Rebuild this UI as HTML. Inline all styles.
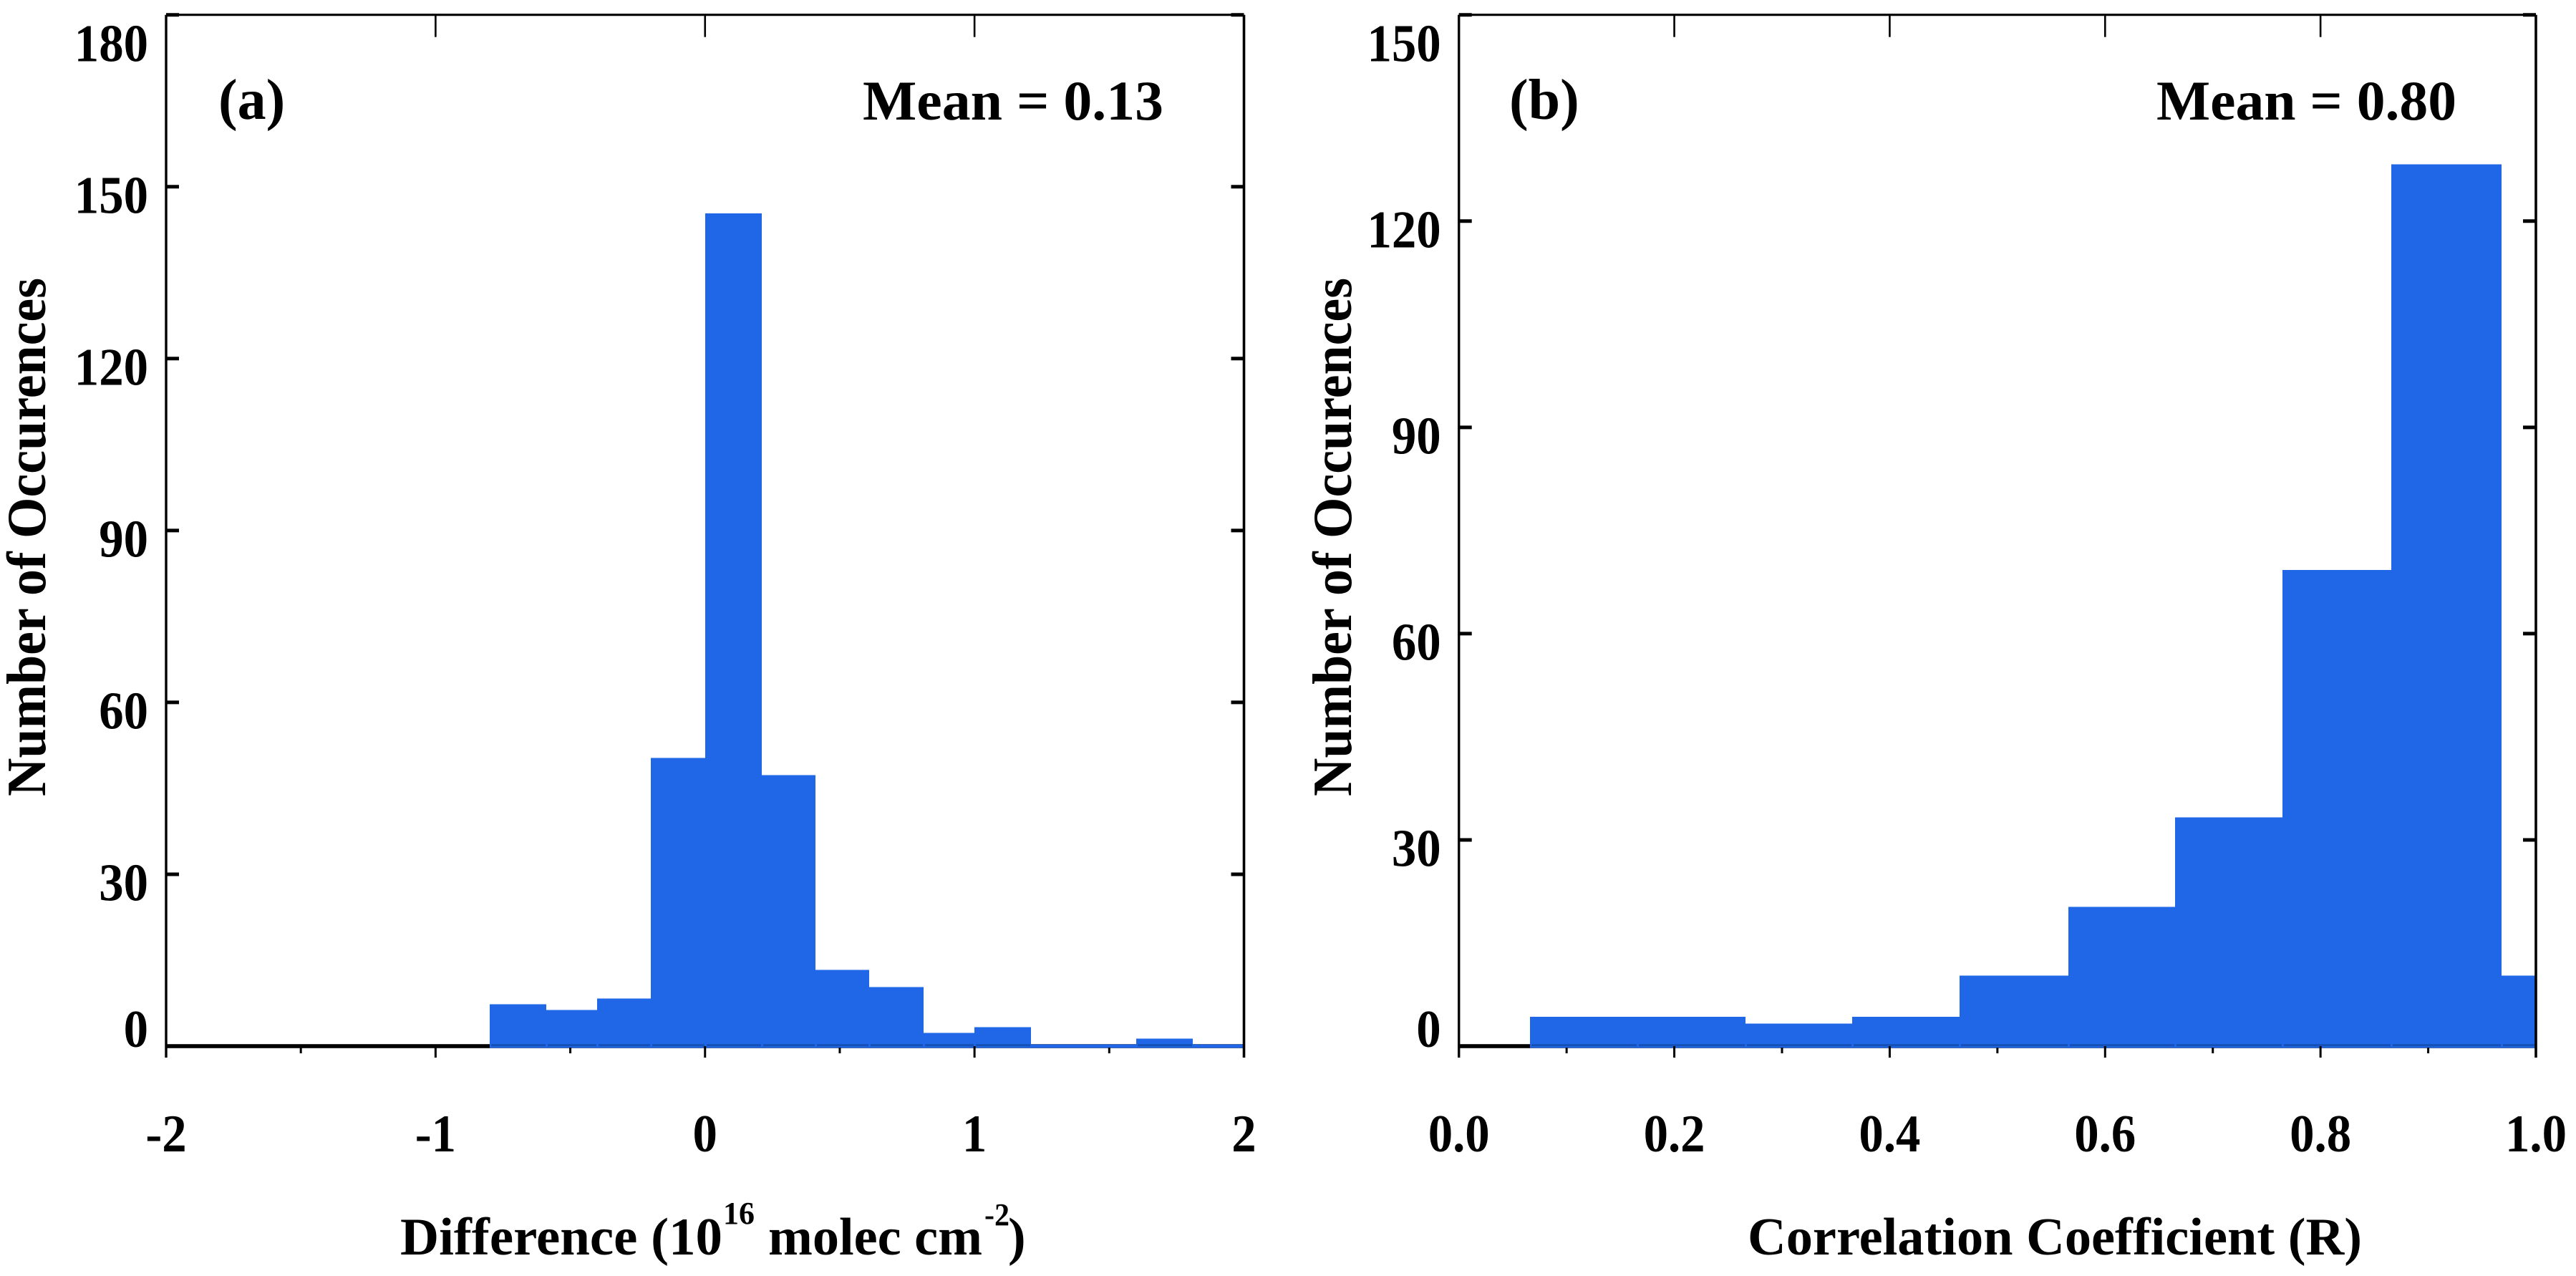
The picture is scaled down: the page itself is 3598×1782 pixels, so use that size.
<!DOCTYPE html>
<html lang="en">
<head>
<meta charset="utf-8">
<title>Histograms of difference and correlation coefficient</title>
<style>
html,body{margin:0;padding:0;background:#fff;}
svg{display:block;}
text{font-family:"Liberation Serif","Times New Roman",serif;font-weight:bold;fill:#000;}
</style>
</head>
<body>
<svg id="chart" xmlns="http://www.w3.org/2000/svg" width="3598" height="1782" viewBox="0 0 3598 1782">
  <rect x="0" y="0" width="3598" height="1782" fill="#ffffff"/>
  <g id="panel-a"></g>
  <g id="panel-b"></g>

  <text x="305" y="166" font-size="80">(a)</text>
  <text x="1205" y="167" font-size="78" textLength="420" lengthAdjust="spacingAndGlyphs">Mean = 0.13</text>
  <text x="2108" y="166" font-size="80">(b)</text>
  <text x="3012" y="167" font-size="78" textLength="419" lengthAdjust="spacingAndGlyphs">Mean = 0.80</text>

  <text transform="translate(63,1112) rotate(-90)" font-size="77" textLength="724" lengthAdjust="spacingAndGlyphs">Number of Occurences</text>
  <text transform="translate(1887,1112) rotate(-90)" font-size="77" textLength="724" lengthAdjust="spacingAndGlyphs">Number of Occurences</text>

  <g>
    <text x="559" y="1752" font-size="74" textLength="450" lengthAdjust="spacingAndGlyphs">Difference (10</text>
    <text x="1010" y="1709" font-size="44" textLength="44" lengthAdjust="spacingAndGlyphs">16</text>
    <text x="1073" y="1752" font-size="74" textLength="299" lengthAdjust="spacingAndGlyphs">molec cm</text>
    <text x="1375" y="1711" font-size="44" textLength="35" lengthAdjust="spacingAndGlyphs">-2</text>
    <text x="1408" y="1752" font-size="74">)</text>
  </g>
  <text x="2441" y="1752" font-size="74" textLength="858" lengthAdjust="spacingAndGlyphs">Correlation Coefficient (R)</text>
</svg>
<script>
// Panel (a): difference histogram
const diffBinEdges = [-0.8, -0.59, -0.4, -0.2, 0, 0.21, 0.41, 0.61, 0.81, 1.0, 1.21, 1.4, 1.6, 1.81, 2.0];
const diffCounts = [7, 6, 8, 50, 145, 47, 13, 10, 2, 3, 0, 0, 1, 0];
const diffXMajor = [-2, -1, 0, 1, 2];
const diffXLabels = ['-2', '-1', '0', '1', '2'];
const diffXMinor = [-1.5, -0.5, 0.5, 1.5];
const diffYTicks = [0, 30, 60, 90, 120, 150, 180];
const diffYLabels = ['0', '30', '60', '90', '120', '150', '180'];

// Panel (b): correlation histogram
const corrBinEdges = [0.066, 0.166, 0.266, 0.365, 0.465, 0.566, 0.665, 0.765, 0.866, 0.968, 1.0];
const corrCounts = [4, 4, 3, 4, 10, 20, 33, 69, 128, 10];
const corrXMajor = [0, 0.2, 0.4, 0.6, 0.8, 1];
const corrXLabels = ['0.0', '0.2', '0.4', '0.6', '0.8', '1.0'];
const corrXMinor = [0.1, 0.3, 0.5, 0.7, 0.9];
const corrYTicks = [0, 30, 60, 90, 120, 150];
const corrYLabels = ['0', '30', '60', '90', '120', '150'];

const SVG_NS = 'http://www.w3.org/2000/svg';
const TOP = 20.7, BOTTOM = 1461;
const BAR_COLOR = '#1f67e6', STRIP_COLOR = '#1550b4';
const TICK_TEXT_SQUEEZE = 0.93;

function makeEl(parent, tag, attrs) {
  const el = document.createElementNS(SVG_NS, tag);
  for (const k in attrs) el.setAttribute(k, attrs[k]);
  parent.appendChild(el);
  return el;
}

function drawPanel(parent, prefix, geom, edges, counts, xMajor, xLabels, xMinor, yTicks, yLabels) {
  const xDomain = xMajor[xMajor.length - 1] - xMajor[0];
  const yMax = yTicks[yTicks.length - 1];
  const xScale = v => geom.left + (v - xMajor[0]) / xDomain * (geom.right - geom.left);
  const yScale = v => BOTTOM - v / yMax * (BOTTOM - TOP);

  // zero baseline beneath the bars
  const base = makeEl(parent, 'rect', {x: geom.left, y: BOTTOM - 2.8, width: geom.right - geom.left, height: 5.6, fill: '#000'});
  
  

  // bars (snapped to whole pixels so that adjacent bars show no seams)
  counts.forEach((count, i) => {
    const x0 = Math.round(xScale(edges[i])), x1 = Math.round(xScale(edges[i + 1]));
    const top = yScale(count) - 2.6;
    const bar = makeEl(parent, 'rect', {x: x0, y: top, width: x1 - x0, height: BOTTOM + 2.6 - top, fill: BAR_COLOR, 'shape-rendering': 'crispEdges'});
    
    
    if (count > 0) {
      const strip = makeEl(parent, 'rect', {x: x0 + 2, y: BOTTOM - 2.8, width: x1 - x0 - 3, height: 3, fill: STRIP_COLOR});
      
      
    }
  });

  // frame
  const frameSides = [
    ['top', geom.left, TOP, geom.right, TOP, 3.2],
    ['left', geom.left, TOP, geom.left, BOTTOM + 16, 3.4],
    ['right', geom.right, TOP, geom.right, BOTTOM + 16, 3.6]
  ];
  frameSides.forEach(s => {
    const line = makeEl(parent, 'line', {x1: s[1], y1: s[2], x2: s[3], y2: s[4], stroke: '#000', 'stroke-width': s[5]});
    
    
  });

  // y ticks and labels
  yTicks.forEach((v, i) => {
    const y = yScale(v);
    if (v !== 0) {
      const left = makeEl(parent, 'line', {x1: geom.left, y1: y, x2: geom.left + 18, y2: y, stroke: '#000', 'stroke-width': 5});
      
      
      const right = makeEl(parent, 'line', {x1: geom.right - 18, y1: y, x2: geom.right, y2: y, stroke: '#000', 'stroke-width': 5});
      
      
    }
    const offset = v === 0 ? 1 : (v === yMax ? 65 : 36.5);
    const label = makeEl(parent, 'text', {transform: 'translate(' + (geom.left - 25) + ',' + (y + offset) + ') scale(' + TICK_TEXT_SQUEEZE + ',1)', 'font-size': 74, 'text-anchor': 'end'});
    label.textContent = yLabels[i];
    
    
  });

  // x ticks and labels
  xMajor.forEach((v, i) => {
    const x = xScale(v);
    if (i > 0 && i < xMajor.length - 1) {
      const topTick = makeEl(parent, 'line', {x1: x, y1: TOP, x2: x, y2: TOP + 31, stroke: '#000', 'stroke-width': 2.6});
      
      
      const bottomTick = makeEl(parent, 'line', {x1: x, y1: BOTTOM, x2: x, y2: BOTTOM + 16, stroke: '#000', 'stroke-width': 3});
      
      
    }
    const label = makeEl(parent, 'text', {transform: 'translate(' + x + ',1608) scale(' + TICK_TEXT_SQUEEZE + ',1)', 'font-size': 74, 'text-anchor': 'middle'});
    label.textContent = xLabels[i];
    
    
  });
  xMinor.forEach(v => {
    const x = xScale(v);
    const minor = makeEl(parent, 'line', {x1: x, y1: BOTTOM + 2, x2: x, y2: BOTTOM + 10, stroke: '#000', 'stroke-width': 3});
    
    
  });
}

drawPanel(document.getElementById('panel-a'), 'panel-a', {left: 232, right: 1737.5},
  diffBinEdges, diffCounts, diffXMajor, diffXLabels, diffXMinor, diffYTicks, diffYLabels);
drawPanel(document.getElementById('panel-b'), 'panel-b', {left: 2037.7, right: 3542},
  corrBinEdges, corrCounts, corrXMajor, corrXLabels, corrXMinor, corrYTicks, corrYLabels);
</script>
</body>
</html>
